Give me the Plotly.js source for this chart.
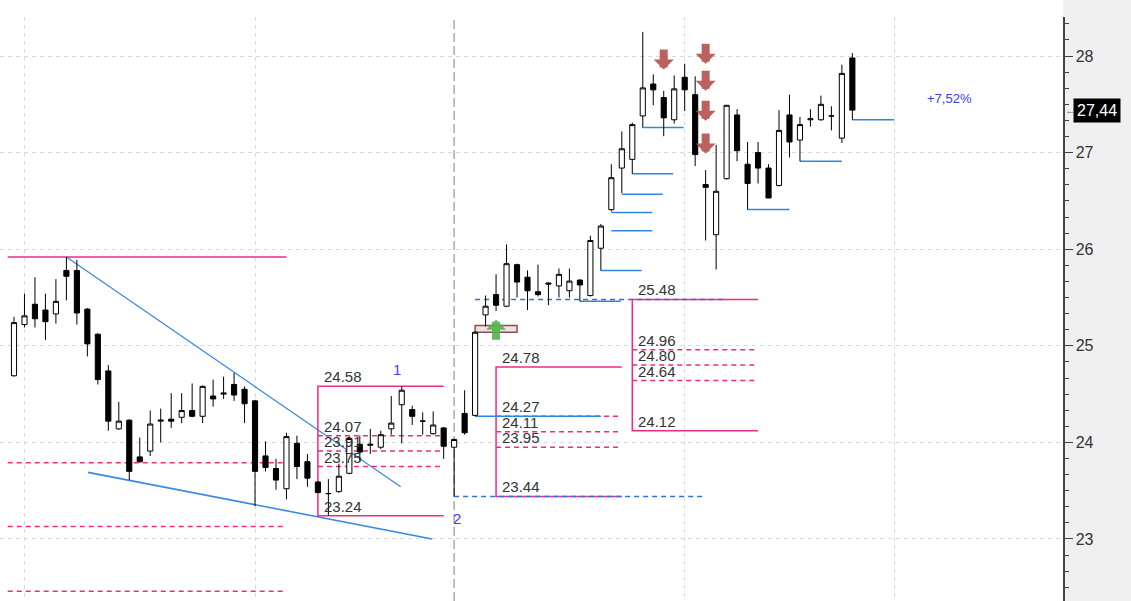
<!DOCTYPE html>
<html><head><meta charset="utf-8">
<script src="https://cdn.plot.ly/plotly-3.0.1.min.js"></script>
<style>html,body{margin:0;padding:0;background:#fff}#chart{width:1131px;height:601px}</style>
</head><body><div id="chart"></div>
<script>
// ---- candle data (bar index, OHLC) ----
const barIdx = [0,1,2,3,4,5,6,7,8,9,10,11,12,13,14,15,16,17,18,19,20,21,22,23,24,25,26,27,28,29,30,31,32,33,34,35,36,37,38,39,40,41,42,43,44,45,46,47,48,49,50,51,52,53,54,55,56,57,58,59,60,61,62,63,64,65,66,67,68,69,70,71,72,73,74,75,76,77,78,79,80];
const openP  = [24.69,25.22,25.43,25.37,25.33,25.78,25.78,25.38,25.12,24.74,24.14,24.23,23.85,23.91,24.22,24.24,24.26,24.33,24.27,24.48,24.50,24.60,24.55,24.43,23.86,23.73,23.52,23.99,23.80,23.59,23.47,23.49,23.68,23.98,23.97,23.95,24.14,24.39,24.34,24.22,24.09,24.15,23.95,24.30,24.28,25.32,25.53,25.41,25.84,25.71,25.56,25.65,25.62,25.57,25.68,25.52,26.01,26.41,26.84,26.93,27.38,27.71,27.57,27.34,27.78,27.60,26.67,26.15,26.73,27.39,26.88,27.00,26.84,26.66,27.39,27.13,27.34,27.34,27.38,27.15,27.98];
const highP  = [25.30,25.54,25.71,25.54,25.69,25.92,25.89,25.39,25.13,24.80,24.42,24.24,24.05,24.33,24.35,24.51,24.51,24.61,24.59,24.65,24.68,24.72,24.58,24.44,24.01,23.83,24.10,24.07,23.88,23.60,23.62,23.78,24.06,24.07,24.14,24.12,24.48,24.58,24.38,24.31,24.32,24.16,24.04,24.54,25.15,25.52,25.74,26.05,25.85,25.78,25.84,25.66,25.80,25.80,25.69,26.14,26.26,26.88,27.22,27.31,28.25,27.81,27.64,27.80,27.92,27.79,26.82,27.08,27.49,27.45,27.11,27.11,26.88,27.44,27.60,27.37,27.45,27.59,27.48,27.91,28.03];
const lowP   = [24.68,25.19,25.19,25.06,25.23,25.47,25.22,24.89,24.60,24.12,24.13,23.61,23.79,23.86,24.00,24.15,24.20,24.26,24.20,24.37,24.45,24.43,24.20,23.34,23.70,23.51,23.41,23.62,23.54,23.48,23.24,23.48,23.67,23.80,23.88,23.93,24.08,23.99,24.18,24.08,24.08,23.83,23.44,24.08,24.27,25.20,25.36,25.40,25.50,25.37,25.51,25.42,25.50,25.50,25.46,25.51,25.78,26.39,26.58,26.78,27.26,27.49,27.17,27.30,27.43,26.86,26.09,25.79,26.72,26.91,26.41,26.68,26.53,26.65,26.95,26.91,27.27,27.33,27.23,27.10,27.34];
const closeP = [25.24,25.31,25.28,25.25,25.46,25.72,25.34,25.02,24.65,24.22,24.22,23.70,23.80,24.19,24.23,24.22,24.33,24.27,24.58,24.45,24.51,24.49,24.40,23.70,23.74,23.61,24.06,23.75,23.63,23.48,23.47,23.65,24.04,23.90,23.98,24.08,24.20,24.54,24.27,24.22,24.18,23.96,24.03,24.10,25.14,25.41,25.42,25.85,25.66,25.57,25.53,25.64,25.74,25.67,25.63,26.09,26.24,26.74,27.04,27.29,27.67,27.65,27.36,27.66,27.65,26.98,26.64,26.60,27.49,27.02,26.68,26.84,26.53,27.23,27.11,27.29,27.35,27.50,27.38,27.82,27.44];

// ---- month grid (bar indices) and separator ----
const monthGridIdx = [1, 23, 64, 84];
const separatorIdx = 42;

// ---- horizontal levels on the left ----
const levelSpan = [-0.6, 26];
const solidLevels = [25.92];
const dashedLevels = [23.79, 23.13, 22.46];

// ---- trend lines ----
const trendUpperX = [5, 36.9];
const trendUpperY = [25.92, 23.54];
const trendLowerX = [7.06, 39.9];
const trendLowerY = [23.69, 23.00];

// ---- pink retracement boxes ----
const boxStart = [29, 46, 59];
const boxEnd = [41, 58, 71];
const boxTop = [24.58, 24.78, 25.48];
const boxBottom = [23.24, 23.44, 24.12];
const boxLevels = [[24.07, 23.91, 23.75], [24.27, 24.11, 23.95], [24.96, 24.80, 24.64]];

// ---- blue dashed levels ----
const blueDashStart = [44, 42];
const blueDashEnd = [68, 66];
const blueDashLevel = [25.48, 23.44];

// ---- blue support stubs ----
const supStart = [44, 54, 56, 57, 57, 58, 59, 60, 70, 75, 80];
const supEnd   = [56, 57.9, 59.9, 60.9, 60.9, 61.9, 62.9, 63.9, 74, 79, 84];
const supLevel = [24.27, 25.46, 25.78, 26.19, 26.38, 26.57, 26.78, 27.26, 26.41, 26.91, 27.34];

// ---- signals ----
const sellIdx = [62, 66, 66, 66, 66];
const sellPrice = [27.86, 27.92, 27.64, 27.33, 26.99];
const buyIdx = [46];
const buyPrice = [25.27];
const buyBoxX = [44, 48];
const buyBoxY = [25.14, 25.21];

// ---- wave labels ----
const waveText = ['1', '2'];
const waveIdx = [37, 42];
const wavePrice = [24.58, 23.44];

const lastPriceText = '27,44';
const lastPrice = 27.44;
const pctText = '+7,52%';

const PINK = '#ee2a86';
const BLUE = '#3a8ae0';
const FONT = 'Liberation Sans, Arial, sans-serif';
const xr = [-1.336, 100.1];
const yr = [22.358, 28.404];

const traces = [];
solidLevels.forEach(v => traces.push({type:'scatter', mode:'lines', x:levelSpan, y:[v,v], line:{color:PINK, width:1.5}}));
dashedLevels.forEach(v => traces.push({type:'scatter', mode:'lines', x:levelSpan, y:[v,v], line:{color:PINK, width:1.5, dash:'5px,4px'}}));
traces.push({type:'scatter', mode:'lines', x:trendUpperX, y:trendUpperY, line:{color:BLUE, width:1.3}});
traces.push({type:'scatter', mode:'lines', x:trendLowerX, y:trendLowerY, line:{color:BLUE, width:1.6}});
boxStart.forEach((s, i) => {
  const e = boxEnd[i];
  traces.push({type:'scatter', mode:'lines', x:[e, s, s, e], y:[boxTop[i], boxTop[i], boxBottom[i], boxBottom[i]], line:{color:PINK, width:1.5}});
  boxLevels[i].forEach(v => traces.push({type:'scatter', mode:'lines', x:[s, e], y:[v, v], line:{color:PINK, width:1.5, dash:'5px,4px'}}));
});
blueDashStart.forEach((s, i) => traces.push({type:'scatter', mode:'lines', x:[s, blueDashEnd[i]], y:[blueDashLevel[i], blueDashLevel[i]], line:{color:'#2f72d8', width:1.5, dash:'5px,4px'}}));
supStart.forEach((s, i) => traces.push({type:'scatter', mode:'lines', x:[s, supEnd[i]], y:[supLevel[i], supLevel[i]], line:{color:'#2f86e0', width:1.5}}));
traces.push({type:'scatter', mode:'lines', x:[buyBoxX[0], buyBoxX[1], buyBoxX[1], buyBoxX[0], buyBoxX[0]], y:[buyBoxY[0], buyBoxY[0], buyBoxY[1], buyBoxY[1], buyBoxY[0]], fill:'toself', fillcolor:'#efe2e2', line:{color:'#8a5050', width:1.5}});
traces.forEach(t => { t.hoverinfo = 'skip'; t.showlegend = false; });

traces.push({
  type:'candlestick', x:barIdx, open:openP, high:highP, low:lowP, close:closeP,
  xaxis:'x2', yaxis:'y2', whiskerwidth:0, hoverinfo:'skip', showlegend:false,
  increasing:{line:{color:'#000', width:1}, fillcolor:'#fff'},
  decreasing:{line:{color:'#000', width:1}, fillcolor:'#000'}
});

const annotations = [];
boxStart.forEach((s, i) => {
  [boxTop[i], ...boxLevels[i], boxBottom[i]].forEach(v => annotations.push({
    x:s, y:v, xref:'x', yref:'y', xanchor:'left', yanchor:'bottom', xshift:4, yshift:-1,
    text:v.toFixed(2), showarrow:false, font:{family:FONT, size:15, color:'#333'}
  }));
});
waveText.forEach((t, i) => annotations.push({
  x:waveIdx[i], y:wavePrice[i], xref:'x', yref:'y', text:t, showarrow:false,
  xshift: i === 0 ? -5 : 3, yshift: i === 0 ? 17 : -22,
  font:{family:FONT, size:15, color:'#4a3cf0'}
}));
sellIdx.forEach((x, i) => annotations.push({
  x:x, y:sellPrice[i], xref:'x', yref:'y', ax:0, ay:-22, showarrow:true,
  arrowhead:1, arrowwidth:8, arrowsize:0.42, arrowcolor:'rgba(176,70,66,0.85)', font:{size:1}
}));
buyIdx.forEach((x, i) => annotations.push({
  x:x, y:buyPrice[i], xref:'x', yref:'y', ax:0, ay:22, showarrow:true,
  arrowhead:1, arrowwidth:8, arrowsize:0.42, arrowcolor:'rgba(86,178,76,0.9)', font:{size:1}
}));
annotations.push({x: barIdx[barIdx.length-1] + 9.3, y: 27.565, xref:'x', yref:'y', text:pctText, showarrow:false,
  font:{family:FONT, size:13, color:'#3c3cf0'}});
annotations.push({x:1, xref:'paper', y:lastPrice, yref:'y', xanchor:'left', xshift:10, text:lastPriceText, showarrow:false,
  bgcolor:'#000', borderpad:3, font:{family:FONT, size:16, color:'#fff'}});
annotations.push({x:1, xref:'paper', y:lastPrice, yref:'y', xanchor:'left', xshift:0, text:'←', showarrow:false,
  font:{family:FONT, size:11, color:'#666'}});

const shapes = [
  {type:'rect', xref:'paper', yref:'paper', x0:1, x1:1.1, y0:-0.05, y1:1.05, fillcolor:'#f0f0f0', line:{width:0}, layer:'below'},
  {type:'line', xref:'x', yref:'paper', x0:separatorIdx, x1:separatorIdx, y0:0, y1:1, line:{color:'#aaaaaa', width:1.5, dash:'9px,4px'}, layer:'below'}
];

const layout = {
  width:1131, height:601, margin:{l:0, r:68, t:17, b:0},
  paper_bgcolor:'#fff', plot_bgcolor:'#fff', showlegend:false, hovermode:false,
  font:{family:FONT},
  xaxis:{range:xr, tickmode:'array', tickvals:monthGridIdx, showticklabels:false, ticks:'', showgrid:true,
    gridcolor:'#d9d9d9', griddash:'4px,4px', zeroline:false, showline:false, rangeslider:{visible:false}},
  yaxis:{range:yr, side:'right', tickmode:'linear', tick0:23, dtick:1, ticks:'outside', ticklen:8, tickcolor:'#444',
    showline:true, linecolor:'#444', linewidth:1.5, showgrid:true, gridcolor:'#d9d9d9', griddash:'4px,4px', zeroline:false,
    tickfont:{family:FONT, size:16, color:'#333'},
    minor:{tick0:23, dtick:1/6, ticks:'outside', ticklen:4, tickcolor:'#444', showgrid:false}},
  xaxis2:{range:xr, overlaying:'x', anchor:'y2', visible:false, rangeslider:{visible:false}},
  yaxis2:{range:yr, overlaying:'y', anchor:'x2', visible:false},
  shapes:shapes, annotations:annotations
};
Plotly.newPlot('chart', traces, layout, {staticPlot:true, displayModeBar:false});
</script></body></html>
